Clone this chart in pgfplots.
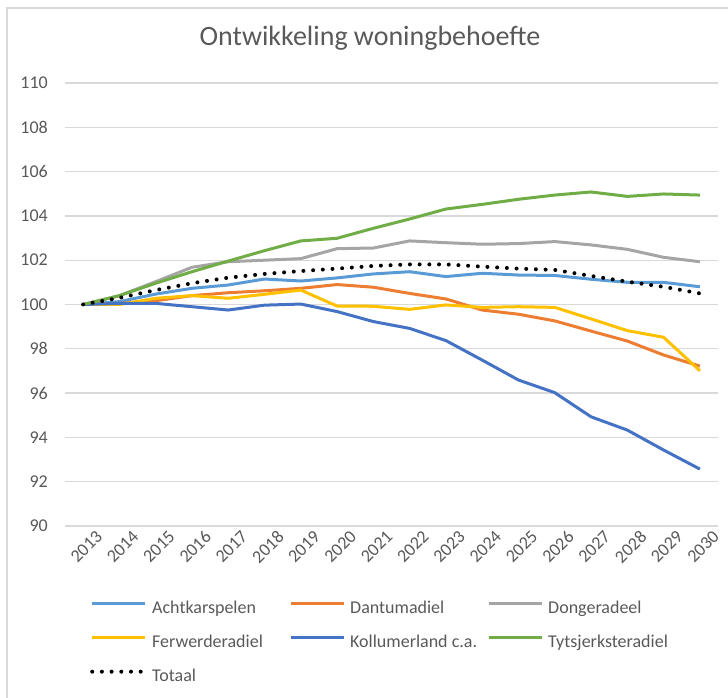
\documentclass[border=0pt]{standalone}
\usepackage{pgfplots}
\pgfplotsset{compat=1.18}
\usepackage{fontspec}
\setmainfont{Carlito}
\definecolor{cA}{HTML}{5B9BD5}
\definecolor{cD}{HTML}{ED7D31}
\definecolor{cG}{HTML}{A5A5A5}
\definecolor{cF}{HTML}{FFC000}
\definecolor{cK}{HTML}{4472C4}
\definecolor{cT}{HTML}{70AD47}
\definecolor{txt}{HTML}{595959}
\definecolor{gridc}{HTML}{D9D9D9}
\pgfplotstableread{
x A D G F K T Tot
0 100 100 100 100 100 100 100
1 100.13 100.05 100.40 100.00 100.05 100.40 100.30
2 100.47 100.17 101.03 100.28 100.05 100.96 100.65
3 100.73 100.40 101.68 100.40 99.90 101.48 100.96
4 100.88 100.53 101.93 100.28 99.75 101.96 101.21
5 101.15 100.62 102.00 100.46 99.97 102.43 101.38
6 101.06 100.73 102.07 100.65 100.02 102.87 101.51
7 101.20 100.90 102.52 99.93 99.68 102.99 101.62
8 101.38 100.78 102.55 99.92 99.23 103.44 101.74
9 101.48 100.50 102.87 99.78 98.92 103.86 101.81
10 101.26 100.25 102.79 99.98 98.37 104.31 101.81
11 101.41 99.75 102.72 99.87 97.49 104.52 101.71
12 101.33 99.56 102.75 99.90 96.59 104.75 101.62
13 101.31 99.26 102.84 99.87 96.02 104.94 101.56
14 101.14 98.80 102.69 99.35 94.93 105.08 101.29
15 101.00 98.35 102.49 98.82 94.33 104.88 101.03
16 101.00 97.72 102.13 98.52 93.43 104.99 100.80
17 100.80 97.22 101.93 97.01 92.57 104.94 100.50
}\data
\newcommand{\lb}[1]{\makebox[137pt][l]{#1}}
\begin{document}
\begin{tikzpicture}
\draw[gridc, line width=1.3pt] (7pt,0pt) -- (7pt,690pt) -- (740pt,690pt);
\begin{axis}[
  at={(65pt,172pt)}, anchor=south west,
  scale only axis, width=653pt, height=443pt,
  xmin=-0.5, xmax=17.5, ymin=90, ymax=110,
  xtick={0,...,17},
  xticklabels={2013,2014,2015,2016,2017,2018,2019,2020,2021,2022,2023,2024,2025,2026,2027,2028,2029,2030},
  ytick={90,92,...,110},
  axis line style={draw=none},
  major tick length=0pt,
  ymajorgrids, xmajorgrids=false,
  major grid style={color=gridc, line width=1.3pt},
  tick label style={font=\fontsize{18}{21}\selectfont, text=txt},
  /pgf/number format/assume math mode=true,
  yticklabel style={inner sep=0pt, anchor=east, xshift=-17pt},
  xticklabel style={inner sep=0pt, rotate=45, anchor=east, xshift=6pt, yshift=-17pt},
  title={Ontwikkeling woningbehoefte},
  title style={at={(0.467,1.07)}, anchor=base, font=\fontsize{28}{33}\selectfont, text=txt, inner sep=0pt},
  clip=false,
  legend columns=3,
  legend cell align=left,
  legend image code/.code={\draw[#1] (0pt,5pt) -- (53pt,5pt);},
  legend style={draw=none, fill=none, at={(0.0383,-0.167)}, anchor=north west,
    inner sep=0pt, row sep=17pt,
    font=\fontsize{18}{21}\selectfont, text=txt,
    nodes={inner sep=0pt, text height=13pt, text depth=4pt},
    /tikz/every odd column/.append style={column sep=5pt}},
]
\addplot[cA, line width=3pt, line join=round] table[x=x, y=A] {\data};
\addlegendentry{\lb{Achtkarspelen}}
\addplot[cD, line width=3pt, line join=round] table[x=x, y=D] {\data};
\addlegendentry{\lb{Dantumadiel}}
\addplot[cG, line width=3pt, line join=round] table[x=x, y=G] {\data};
\addlegendentry{\lb{Dongeradeel}}
\addplot[cF, line width=3pt, line join=round] table[x=x, y=F] {\data};
\addlegendentry{\lb{Ferwerderadiel}}
\addplot[cK, line width=3pt, line join=round] table[x=x, y=K] {\data};
\addlegendentry{\lb{Kollumerland c.a.}}
\addplot[cT, line width=3pt, line join=round] table[x=x, y=T] {\data};
\addlegendentry{\lb{Tytsjerksteradiel}}
\addplot[black, line width=4pt, line cap=round, dash pattern=on 0pt off 9.7pt] table[x=x, y=Tot] {\data};
\addlegendentry{\lb{Totaal}}
\end{axis}
\pgfresetboundingbox
\useasboundingbox (0,0) rectangle (728pt,698pt);
\end{tikzpicture}
\end{document}
